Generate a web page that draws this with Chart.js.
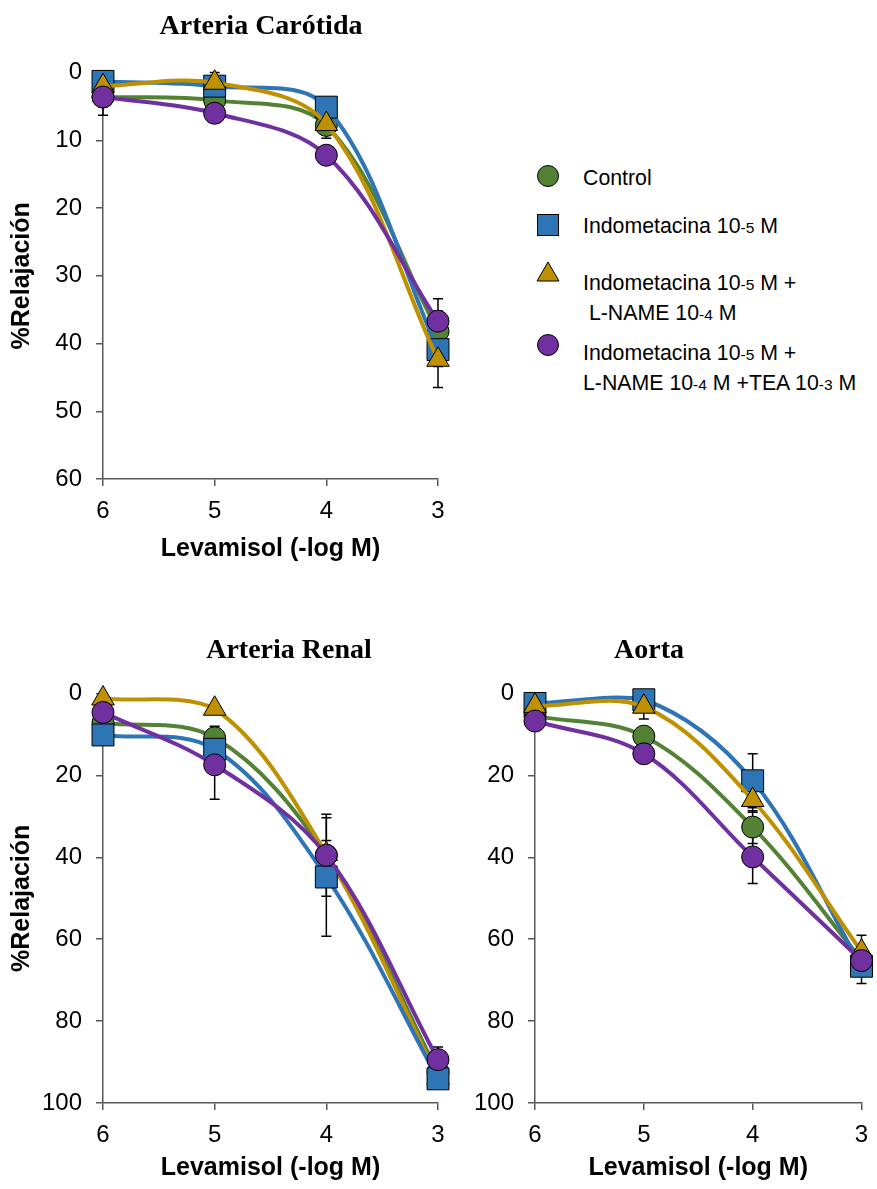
<!DOCTYPE html>
<html lang="es">
<head>
<meta charset="utf-8">
<title>Relajación inducida por levamisol</title>
<script src="https://cdn.jsdelivr.net/npm/chart.js@4.4.1/dist/chart.umd.min.js"></script>
<style>
  body {
    margin: 0;
    width: 877px;
    height: 1189px;
    overflow: hidden;
    position: relative;
    background: #fff;
    font-family: "Liberation Sans", Arial, sans-serif;
  }
  canvas { position: absolute; }
  .ley-marca { position: absolute; width: 24px; height: 24px; }
  .ley-texto {
    position: absolute;
    left: 583px;
    font-size: 21.3px;
    line-height: 29px;
    white-space: pre;
    color: #000;
  }
  .exp { font-size: 15.5px; }
</style>
</head>
<body>
<canvas id="carotida" width="522" height="564" style="left:0;top:0"></canvas>
<canvas id="renal" width="578" height="583" style="left:0;top:600px"></canvas>
<canvas id="aorta" width="458" height="583" style="left:420px;top:600px"></canvas>
<div id="leyenda"></div>

<script>
// Levamisol (-log M)
var dosis = ["6", "5", "4", "3"];

// Series (mismo orden en los tres graficos)
var series_nombres = [
  "Control",
  "Indometacina 10^-5 M",
  "Indometacina 10^-5 M +\n L-NAME 10^-4 M",
  "Indometacina 10^-5 M +\nL-NAME 10^-4 M +TEA 10^-3 M",
];
var series_colores = ["#548235", "#2E75B6", "#BF9000", "#7030A0"];
var series_marcas = ["circle", "rect", "triangle", "circle"];

// Arteria carotida: % relajacion y error estandar
var carotida_control = [3.6, 4.1, 7.8, 38.2];
var carotida_indo = [1.3, 2.0, 5.1, 40.9];
var carotida_indo_lname = [2.0, 1.5, 7.6, 42.4];
var carotida_indo_lname_tea = [3.6, 6.0, 12.2, 36.7];
var carotida_control_ee = [2.7, 1.2, 1.9, 3.0];
var carotida_indo_ee = [0.5, 0.8, 1.0, 2.5];
var carotida_indo_lname_ee = [1.0, 1.5, 1.2, 4.1];
var carotida_indo_lname_tea_ee = [0.8, 0.8, 0.8, 3.3];

// Arteria renal
var renal_control = [7.1, 10.8, 39.5, 92.5];
var renal_indo = [10.1, 13.6, 44.8, 94.1];
var renal_indo_lname = [1.2, 3.7, 39.2, 93.8];
var renal_indo_lname_tea = [4.6, 17.4, 39.5, 89.4];
var renal_control_ee = [1.0, 2.8, 10.0, 1.5];
var renal_indo_ee = [1.0, 2.0, 14.5, 1.2];
var renal_indo_lname_ee = [1.2, 0.8, 1.0, 1.5];
var renal_indo_lname_tea_ee = [1.0, 8.4, 3.6, 3.1];

// Aorta
var aorta_control = [5.5, 10.4, 32.6, 65.0];
var aorta_indo = [2.4, 1.5, 21.3, 66.6];
var aorta_indo_lname = [3.0, 3.2, 26.0, 63.0];
var aorta_indo_lname_tea = [6.7, 14.7, 39.9, 65.2];
var aorta_control_ee = [1.0, 1.5, 4.0, 2.0];
var aorta_indo_ee = [2.2, 1.0, 6.6, 4.2];
var aorta_indo_lname_ee = [1.0, 3.0, 3.0, 4.0];
var aorta_indo_lname_tea_ee = [1.0, 1.2, 6.5, 2.0];

var radio_marca = { circle: 11, rect: 15.5, triangle: 13 };
var fuente_ejes = "'Liberation Sans', Arial, sans-serif";
var fuente_titulo = "'Liberation Serif', 'Times New Roman', serif";

// Barras de error (media +/- ee), por debajo de lineas y marcas
var barrasError = {
  id: "barrasError",
  beforeDatasetsDraw: function (chart) {
    var ctx = chart.ctx;
    var xs = chart.scales.x;
    var ys = chart.scales.y;
    ctx.save();
    ctx.strokeStyle = "#000";
    ctx.lineWidth = 1.5;
    chart.data.datasets.forEach(function (ds) {
      ds.data.forEach(function (v, i) {
        var e = ds.errores[i];
        var px = xs.getPixelForValue(i);
        var arriba = ys.getPixelForValue(Math.max(v - e, 0));
        var abajo = ys.getPixelForValue(v + e);
        ctx.beginPath();
        ctx.moveTo(px, arriba);
        ctx.lineTo(px, abajo);
        ctx.moveTo(px - 5, arriba);
        ctx.lineTo(px + 5, arriba);
        ctx.moveTo(px - 5, abajo);
        ctx.lineTo(px + 5, abajo);
        ctx.stroke();
      });
    });
    ctx.restore();
  },
};

function crearGrafico(id, titulo, valores, errores, cfg) {
  // orden de dibujo: el numero mas bajo queda encima
  var orden = cfg.orden || [4, 3, 2, 1];
  var datasets = [];
  for (var i = 0; i < valores.length; i++) {
    datasets.push({
      label: series_nombres[i].replace(/\^/g, "").replace("\n", " "),
      data: valores[i],
      errores: errores[i],
      borderColor: series_colores[i],
      backgroundColor: series_colores[i],
      borderWidth: 4,
      tension: 0.35,
      fill: false,
      clip: false,
      pointStyle: series_marcas[i],
      pointRadius: radio_marca[series_marcas[i]],
      pointBackgroundColor: series_colores[i],
      pointBorderColor: "#000",
      pointBorderWidth: 1,
      order: orden[i],
    });
  }

  return new Chart(document.getElementById(id), {
    type: "line",
    data: { labels: dosis, datasets: datasets },
    plugins: [barrasError],
    options: {
      responsive: false,
      animation: false,
      events: [],
      layout: { padding: 0 },
      plugins: {
        legend: { display: false },
        tooltip: { enabled: false },
        title: {
          display: true,
          text: titulo,
          color: "#000",
          font: { family: fuente_titulo, size: 28, weight: "bold" },
          padding: cfg.titulo_padding,
        },
      },
      scales: {
        x: {
          offset: false,
          grid: { drawOnChartArea: false, tickLength: 7, color: "#595959", lineWidth: 1.5 },
          border: { color: "#595959", width: 1.5 },
          ticks: { color: "#000", font: { family: fuente_ejes, size: 24 }, padding: 11, maxRotation: 0 },
          title: {
            display: true,
            text: "Levamisol (-log M)",
            color: "#000",
            font: { family: fuente_ejes, size: 25, weight: "bold" },
            padding: { top: 0, bottom: 0 },
          },
          // margen derecho fijo para que el titulo quede centrado en todo el lienzo
          afterFit: function (s) {
            s.height = cfg.alto_x;
            s.paddingLeft = 0;
            s.paddingRight = cfg.derecha;
          },
        },
        y: {
          reverse: true,
          min: 0,
          max: cfg.max,
          grid: { drawOnChartArea: false, tickLength: 7, color: "#595959", lineWidth: 1.5 },
          border: { color: "#595959", width: 1.5 },
          ticks: { stepSize: cfg.paso, color: "#000", font: { family: fuente_ejes, size: 24 }, padding: 14 },
          title: {
            display: cfg.titulo_y,
            text: "%Relajación",
            color: "#000",
            font: { family: fuente_ejes, size: 25, weight: "bold" },
            padding: { top: 7, bottom: 0 },
          },
          afterFit: function (s) {
            s.width = cfg.ancho_y;
          },
        },
      },
    },
  });
}

crearGrafico(
  "carotida",
  "Arteria Carótida",
  [carotida_control, carotida_indo, carotida_indo_lname, carotida_indo_lname_tea],
  [carotida_control_ee, carotida_indo_ee, carotida_indo_lname_ee, carotida_indo_lname_tea_ee],
  { max: 60, paso: 10, derecha: 84, ancho_y: 103, alto_x: 85, titulo_y: true, titulo_padding: { top: 10, bottom: 29 } }
);

crearGrafico(
  "renal",
  "Arteria Renal",
  [renal_control, renal_indo, renal_indo_lname, renal_indo_lname_tea],
  [renal_control_ee, renal_indo_ee, renal_indo_lname_ee, renal_indo_lname_tea_ee],
  { max: 100, paso: 20, derecha: 140, ancho_y: 103, alto_x: 80, titulo_y: true, orden: [4, 2, 3, 1], titulo_padding: { top: 34, bottom: 26 } }
);

crearGrafico(
  "aorta",
  "Aorta",
  [aorta_control, aorta_indo, aorta_indo_lname, aorta_indo_lname_tea],
  [aorta_control_ee, aorta_indo_ee, aorta_indo_lname_ee, aorta_indo_lname_tea_ee],
  { max: 100, paso: 20, derecha: 13, ancho_y: 115, alto_x: 80, titulo_y: false, titulo_padding: { top: 34, bottom: 26 } }
);

// Leyenda comun, a la derecha del grafico de la carotida
var ley_marca_y = [176, 225, 272, 345];
var ley_texto_y = [178, 226, 283, 353];

function marcaSvg(estilo, color) {
  var attrs = 'fill="' + color + '" stroke="#000" stroke-width="1"';
  var forma;
  if (estilo === "circle") forma = '<circle cx="12" cy="12" r="10.5" ' + attrs + "/>";
  else if (estilo === "rect") forma = '<rect x="1.5" y="1.5" width="21" height="21" ' + attrs + "/>";
  else forma = '<polygon points="12,2 23,21 1,21" ' + attrs + "/>";
  return '<svg width="24" height="24" viewBox="0 0 24 24">' + forma + "</svg>";
}

var leyenda = document.getElementById("leyenda");
for (var i = 0; i < series_nombres.length; i++) {
  var marca = document.createElement("div");
  marca.className = "ley-marca";
  marca.style.left = 548 - 12 + "px";
  marca.style.top = ley_marca_y[i] - 12 + "px";
  marca.innerHTML = marcaSvg(series_marcas[i], series_colores[i]);
  leyenda.appendChild(marca);

  var texto = document.createElement("div");
  texto.className = "ley-texto";
  texto.style.top = ley_texto_y[i] - 14.5 + "px";
  texto.innerHTML = series_nombres[i].replace(/\^(-\d)/g, '<span class="exp">$1</span>');
  leyenda.appendChild(texto);
}
</script>
</body>
</html>
